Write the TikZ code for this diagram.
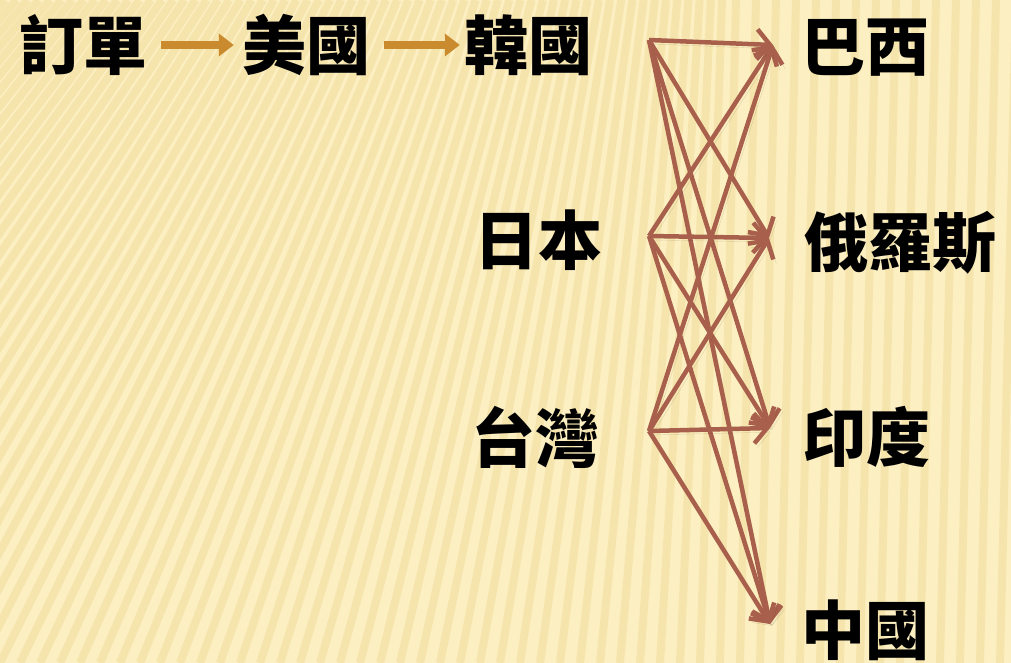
\documentclass[tikz,border=0pt]{standalone}
\usepackage{fontspec}
\newfontfamily\cjk{Noto Sans CJK TC}
\usetikzlibrary{shapes,arrows,arrows.meta}
\definecolor{paper}{RGB}{252,239,194}
\definecolor{paperdark}{RGB}{240,214,146}
\definecolor{routebrown}{RGB}{168,96,76}
\definecolor{gold}{RGB}{202,138,46}

\begin{document}
\begin{tikzpicture}[x=1pt, y=-1pt, >=latex']
    \tikzstyle{country} = [font=\cjk\bfseries\fontsize{64}{70}\selectfont,
    inner sep=0pt, text=black]
    \tikzstyle{route} = [draw=routebrown, line width=4.5pt,
    -{Straight Barb[length=13pt,width=30pt]},
    preaction={draw=black, opacity=0.12,
    transform canvas={shift={(3pt,-4pt)}}}]
    \tikzstyle{flow} = [draw=gold, line width=8.5pt,
    -{Triangle[length=15pt,width=22pt]}]
    \tikzstyle{stripe} = [draw=paperdark, line width=8pt, opacity=0.42]

    \useasboundingbox (0,0) rectangle (1011,663);
    % background
    \begin{scope}
      \clip (0,0) rectangle (1011,663);
      \fill[paper] (0,0) rectangle (1011,663);
      \foreach \xb in {-760,-740,...,1040} {
        \pgfmathsetmacro{\xt}{\xb+max(16,330-0.44*\xb)}
        \draw[stripe] (\xb,663) -- (\xt,0);
      }
    \end{scope}

    % top row
    \node [country] (order) at (83,45) {訂單};
    \node [country] (usa) at (306,45) {美國};
    \node [country] (korea) at (528,45) {韓國};
    \draw [flow, shorten <=14pt, shorten >=8pt] (order) -- (usa);
    \draw [flow, shorten <=14pt, shorten >=4pt] (usa) -- (korea);

    % other sources
    \node [country] (japan) at (538,240) {日本};
    \node [country] (taiwan) at (535,437) {台灣};

    % destinations
    \node [country] (brazil) at (865,48) {巴西};
    \node [country] (russia) at (900,243) {俄羅斯};
    \node [country] (india) at (866,437) {印度};
    \node [country] (china) at (865,630) {中國};

    \coordinate (korea-out) at (649,40);
    \coordinate (japan-out) at (649,236);
    \coordinate (taiwan-out) at (649,431);
    \coordinate (brazil-in) at (773,45);
    \coordinate (russia-in) at (769,238);
    \coordinate (india-in) at (770,428);
    \coordinate (china-in) at (770,624);

    \draw [route] (korea-out) -- (brazil-in);
    \draw [route] (korea-out) -- (russia-in);
    \draw [route] (korea-out) -- (india-in);
    \draw [route] (korea-out) -- (china-in);
    \draw [route] (japan-out) -- (brazil-in);
    \draw [route] (japan-out) -- (russia-in);
    \draw [route] (japan-out) -- (india-in);
    \draw [route] (japan-out) -- (china-in);
    \draw [route] (taiwan-out) -- (brazil-in);
    \draw [route] (taiwan-out) -- (russia-in);
    \draw [route] (taiwan-out) -- (india-in);
    \draw [route] (taiwan-out) -- (china-in);
  \end{tikzpicture}
\end{document}
